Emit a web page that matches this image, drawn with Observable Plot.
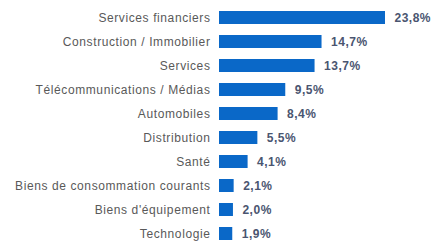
<!DOCTYPE html>
<html>
<head>
<meta charset="utf-8">
<script src="https://cdn.jsdelivr.net/npm/d3@7"></script>
<script src="https://cdn.jsdelivr.net/npm/@observablehq/plot@0.6"></script>
<style>
  html, body { margin: 0; padding: 0; background: #fff; }
  #chart svg { display: block; }
</style>
</head>
<body>
<div id="chart"></div>
<script>
const categories = [
  "Services financiers",
  "Construction / Immobilier",
  "Services",
  "Télécommunications / Médias",
  "Automobiles",
  "Distribution",
  "Santé",
  "Biens de consommation courants",
  "Biens d'équipement",
  "Technologie"
];
const values = [23.8, 14.7, 13.7, 9.5, 8.4, 5.5, 4.1, 2.1, 2.0, 1.9];

const data = categories.map((c, i) => ({ cat: c, val: values[i] }));
const fmt = v => v.toFixed(1).replace(".", ",") + "%";

const chart = Plot.plot({
  width: 435,
  height: 248,
  marginLeft: 219,
  marginRight: 50,
  marginTop: 3,
  marginBottom: 0,
  style: { fontFamily: "'Liberation Sans', Arial, sans-serif", fontSize: "12px", background: "#fff" },
  x: { domain: [0, 23.8], axis: null },
  y: { domain: categories, paddingInner: 0.44, paddingOuter: 0.22, label: null },
  marks: [
    Plot.barX(data, { y: "cat", x: "val", fill: "#0a68c8" }),
    Plot.text(data, {
      y: "cat", x: "val", text: d => fmt(d.val),
      textAnchor: "start", dx: 9, fill: "#4a5570", fontWeight: "bold", fontSize: 12,
      fontFamily: "'Liberation Sans', Arial, sans-serif"
    }),
    Plot.axisY({ tickSize: 0, tickPadding: 9, color: "#595959", fontSize: 12, label: null })
  ]
});
chart.querySelectorAll("g[aria-label='y-axis tick label'] text").forEach(t => t.setAttribute("letter-spacing", "0.6"));
chart.querySelectorAll("g[aria-label='text'] text").forEach(t => t.setAttribute("letter-spacing", "0.5"));
document.getElementById("chart").appendChild(chart);
</script>
</body>
</html>
